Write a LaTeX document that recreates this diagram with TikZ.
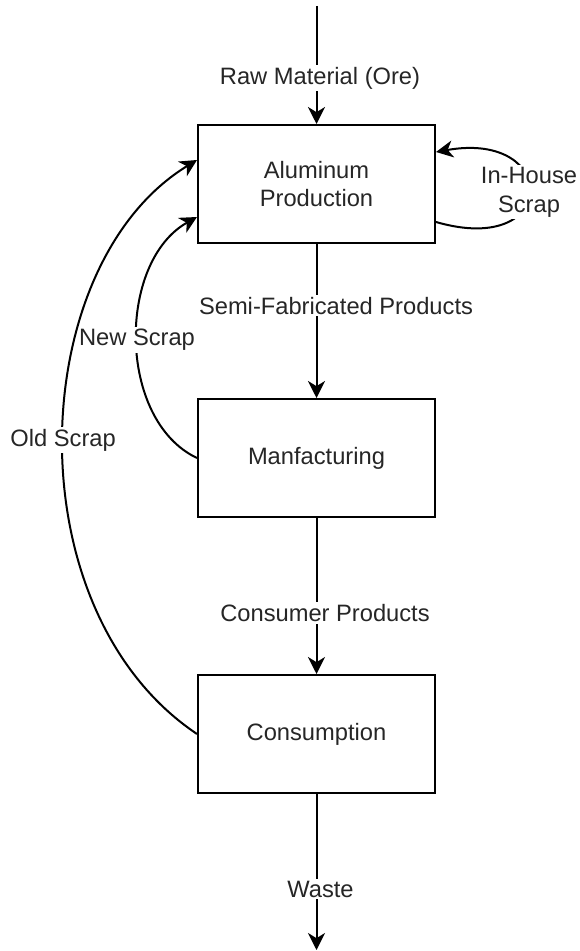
\documentclass[tikz,border=0pt]{standalone}
\usepackage{fontspec}
\setmainfont{Liberation Sans}
\usetikzlibrary{arrows.meta}
\begin{document}
\begin{tikzpicture}[x=0.5pt,y=-0.5pt,
  box/.style={draw=black, line width=1pt, minimum width=118.5pt, minimum height=59pt, inner sep=0pt, align=center,
    text=black!85, font=\fontsize{11.85}{14.2}\selectfont},
  arr/.style={draw=black, line width=1pt, -{Stealth[length=8.5pt,width=8.5pt,inset=2.6pt]}},
  lbl/.style={fill=white, inner sep=1pt, align=center, text=black!85, font=\fontsize{11.85}{14.5}\selectfont}]
\useasboundingbox (0,0) rectangle (579,951);
\node[box] (p1) at (316.5,184) {Aluminum\\Production};
\node[box] (p2) at (316.5,458) {Manfacturing};
\node[box] (p3) at (316.5,734) {Consumption};
\coordinate (top) at (316.5,6);
\coordinate (bot) at (316.5,950);
\draw[arr] (top) -- node[lbl, pos=0.61, xshift=1.75pt] {Raw Material (Ore)} (p1.north);
\draw[arr] (p1.south) -- node[lbl, pos=0.40, xshift=9.75pt] {Semi-Fabricated Products} (p2.north);
\draw[arr] (p2.south) -- node[lbl, pos=0.61, xshift=4.25pt] {Consumer Products} (p3.north);
\draw[arr] (p3.south) -- node[lbl, pos=0.61, xshift=2pt] {Waste} (bot);
\draw[arr] ([yshift=-19pt]p1.east) .. controls (560,258) and (560,130) .. node[lbl, pos=0.5] {In-House\\Scrap} ([yshift=16pt]p1.east);
\draw[arr] (p2.west) .. controls (117,420) and (117,262) .. node[lbl, pos=0.5] {New Scrap} ([yshift=-16.5pt]p1.west);
\draw[arr] (p3.west) .. controls (12,610) and (25,265) .. node[lbl, pos=0.5] {Old Scrap} ([yshift=12pt]p1.west);
\end{tikzpicture}
\end{document}
